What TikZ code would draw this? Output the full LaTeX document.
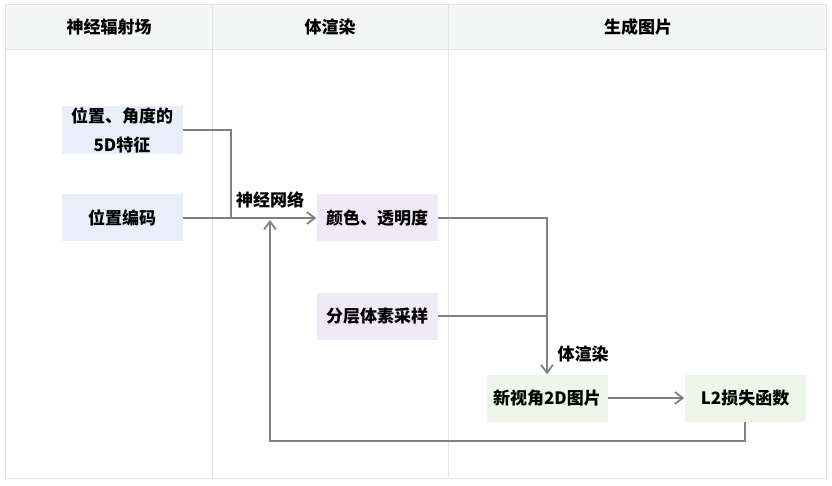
\documentclass[tikz,border=0pt]{standalone}
\usepackage{fontspec}
\setmainfont{Noto Sans CJK SC}
\usetikzlibrary{arrows.meta}

\definecolor{lineg}{HTML}{808080}
\definecolor{gridg}{HTML}{E3E4E4}
\definecolor{headg}{HTML}{F4F5F5}
\definecolor{blueb}{HTML}{E8EEFA}
\definecolor{purpb}{HTML}{F0E9F8}
\definecolor{greenb}{HTML}{EEF6EA}

\begin{document}
\begin{tikzpicture}[x=1pt,y=-1pt,>={Straight Barb[length=8pt,width=12pt,line width=1.8pt]},
    box/.style={inner sep=0pt, minimum width=121pt, minimum height=47pt, align=center,
        font=\fontsize{17}{29}\selectfont\bfseries},
    lab/.style={font=\fontsize{17}{20}\selectfont\bfseries},
    flow/.style={draw=lineg, line width=2.2pt}]
    \useasboundingbox (0,0) rectangle (832,486);
    % lanes
    \fill[headg] (5,5) rectangle (826,50);
    \draw[gridg, line width=1pt] (5,5) rectangle (826,478);
    \draw[gridg, line width=1pt] (5,50) -- (826,50);
    \draw[gridg, line width=1pt] (212,5) -- (212,478);
    \draw[gridg, line width=1pt] (448,5) -- (448,478);
    \node[lab] (h1) at (109,27) {神经辐射场};
    \node[lab] (h2) at (330,27) {体渲染};
    \node[lab] (h3) at (638,27) {生成图片};
    % boxes
    \node[box, fill=blueb, minimum height=48pt] (pos5d) at (122,130) {位置、角度的\\5D特征};
    \node[box, fill=blueb] (posenc) at (122,218) {位置编码};
    \node[box, fill=purpb] (color) at (377,218) {颜色、透明度};
    \node[box, fill=purpb] (sample) at (377,316) {分层体素采样};
    \node[box, fill=greenb] (newview) at (547,398) {新视角2D图片};
    \node[box, fill=greenb] (loss) at (745,398) {L2损失函数};
    \node[lab] (nn) at (270,200) {神经网络};
    \node[lab] (vr) at (583,354) {体渲染};
    % connectors
    \coordinate (j1) at (231,218);
    \coordinate (j2) at (270,220);
    \coordinate (fb) at (270,441);
    \draw[flow] (pos5d.east) -| (j1);
    \draw[flow,->] (posenc) -- (color);
    \draw[flow,->] (color.east) -| (newview.north);
    \draw[flow] (sample.east) -- (sample.east -| newview.north);
    \draw[flow,->] (newview) -- (loss);
    \draw[flow,->] (loss.south) |- (fb) -- (j2);
\end{tikzpicture}
\end{document}
